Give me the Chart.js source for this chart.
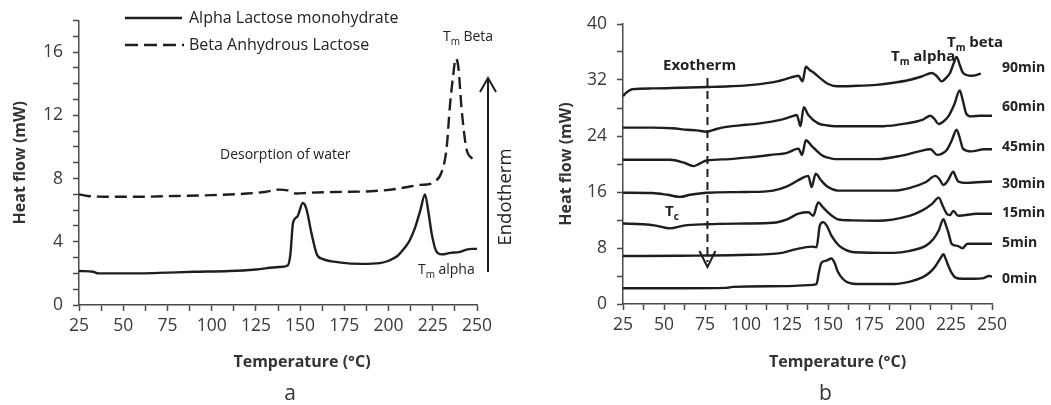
<!DOCTYPE html>
<html>
<head>
<meta charset="utf-8">
<script src="https://cdn.jsdelivr.net/npm/chart.js@4.4.1/dist/chart.umd.min.js"></script>
<style>
    html, body { margin: 0; padding: 0; background: #fff; }
    #wrap { position: relative; width: 1051px; height: 405px; }
    .box { position: absolute; top: 0; height: 405px; }
    #boxA { left: 0; width: 525px; }
    #boxB { left: 525px; width: 526px; }
</style>
</head>
<body>
<div id="wrap">
    <div class="box" id="boxA"><canvas id="chartA"></canvas></div>
    <div class="box" id="boxB"><canvas id="chartB"></canvas></div>
</div>
<script>
// Daten: [Temperatur °C, Wärmestrom mW]
const tempLabels = [25, 50, 75, 100, 125, 150, 175, 200, 225, 250];
const heatLabelsA = [0, 4, 8, 12, 16];
const heatLabelsB = [0, 8, 16, 24, 32, 40];

// Diagramm a
const alphaMono = [[25,2.15],[33,2.1],[36,2.0],[60,2.0],[75,2.05],[90,2.1],[110,2.15],[125,2.25],[138,2.4],[143,2.5],[144.5,3.2],[146,5.2],[148.5,5.6],[151.5,6.45],[153.5,6.1],[156.5,4.5],[159.5,3.2],[163,2.9],[172,2.7],[185,2.6],[195,2.65],[200,2.8],[205,3.1],[209,3.6],[212,4.1],[215,4.9],[218,6.0],[220.6,7.0],[222.5,5.9],[224.4,4.5],[227,3.4],[230,3.2],[235,3.3],[240,3.35],[244,3.5],[247,3.55],[250,3.55]];
const betaAnhydrous = [[25,7.0],[30,6.9],[40,6.85],[60,6.85],[80,6.9],[100,6.95],[120,7.05],[130,7.15],[138,7.3],[143,7.25],[148,7.05],[155,7.1],[170,7.15],[190,7.2],[205,7.35],[212,7.5],[218,7.6],[223,7.65],[226,7.8],[230,8.4],[232.8,9.9],[234.7,12.6],[236.5,14.5],[238,15.6],[239.5,15.0],[241.3,12.4],[244,9.9],[247,9.3],[250,9.05]];

// Diagramm b
const min0 = [[25,2.25],[60,2.25],[88,2.3],[92,2.45],[125,2.55],[138,2.7],[143,2.85],[144.5,4.6],[146,5.9],[149,6.2],[152,6.5],[154,5.9],[156,4.6],[159,3.6],[162,3.1],[170,2.85],[190,2.85],[200,3.2],[207.5,3.8],[212,4.5],[215.5,5.4],[218.5,6.5],[220.4,7.1],[222,6.3],[223.5,5.4],[225.5,4.4],[227.5,3.8],[232,3.6],[239,3.6],[245,3.7],[248,4.0],[250,3.9]];
const min5 = [[25,6.85],[60,6.9],[96,7.0],[122,7.3],[130,7.8],[140,8.2],[143,8.1],[145,11.2],[147,11.7],[149.5,11.1],[152,9.8],[155,8.8],[158,8.1],[166,7.4],[190,7.3],[200,7.6],[209.5,8.3],[214,9.2],[217.5,10.5],[220.4,12.1],[222,11.2],[223.4,10.2],[225.4,8.6],[229,8.3],[232,7.95],[235,8.6],[242,8.6],[250,8.6]];
const min15 = [[25,11.5],[37,11.4],[45,11.2],[53.7,10.8],[62,11.2],[76,11.4],[100,11.5],[116.5,11.6],[125,12.1],[132,12.9],[138,13.1],[141,12.6],[144,14.5],[147,13.8],[150,13.1],[153,12.5],[156,12.1],[165,11.95],[180,11.9],[199.6,12.6],[207,13.3],[213.5,14.3],[217.5,15.2],[220,14.0],[222.4,12.9],[224.4,12.7],[226.4,13.3],[229.4,12.6],[241,12.9],[250,12.9]];
const min30 = [[25,15.9],[43,15.85],[52,15.6],[59.8,15.3],[66,15.6],[76,15.9],[100,16.0],[116.5,16.2],[125,16.8],[132,17.7],[138,18.3],[140,16.7],[142.5,18.6],[146,17.6],[150,16.7],[156,16.2],[175,16.2],[190,16.2],[200,16.6],[209.5,17.4],[215.5,18.3],[218,17.8],[220.4,17.0],[223,17.6],[226.4,18.9],[228,18.1],[229.4,17.5],[235,17.3],[241,17.4],[250,17.5]];
const min45 = [[25,20.6],[40,20.6],[53.7,20.6],[62,20.2],[68,19.7],[72,20.1],[76,20.5],[90,20.7],[104,21.0],[115,21.3],[125,21.6],[132,22.2],[134.2,21.3],[136.5,23.4],[140,22.6],[146,21.3],[150,20.9],[154,20.7],[170,20.7],[179.8,20.7],[195,21.2],[205.5,21.8],[212.5,22.1],[216.5,21.3],[219,21.4],[222.4,22.0],[225.5,23.4],[228.4,24.9],[230.5,23.6],[232.3,22.2],[237.3,21.8],[245.2,22.1],[250,22.1]];
const min60 = [[25,25.2],[43,25.2],[55,25.1],[64,24.9],[70,24.8],[76,24.6],[82,25.0],[88,25.3],[100,25.6],[108.5,25.8],[121,26.3],[128,26.8],[131,27.0],[133.2,25.4],[135.2,28.1],[138,27.0],[144,25.8],[150,25.5],[154,25.4],[170,25.4],[183.7,25.4],[198,25.8],[207.5,26.3],[212.5,26.9],[215,26.4],[217.5,25.7],[220,26.0],[223.4,26.8],[227,28.5],[230.3,30.5],[232.5,28.8],[234.3,27.2],[237.3,26.8],[243,26.9],[250,26.9]];
const min90 = [[25,29.7],[27,30.2],[31,30.7],[43,30.8],[60,30.9],[77,31.0],[90,31.1],[104,31.3],[119,31.8],[125,32.2],[129.5,32.5],[132,32.6],[134.5,31.8],[136.5,33.9],[139,33.4],[141.5,33.0],[145,32.3],[149.5,31.5],[155.5,31.1],[165,31.15],[179.5,31.3],[190,31.6],[199.4,32.0],[207,32.5],[213.4,33.0],[216.5,32.5],[219.4,31.8],[222,32.3],[224.4,33.0],[226.5,34.3],[228.4,35.3],[230.4,34.1],[232.4,33.0],[237.4,32.6],[243.2,32.9]];

const timeNames = ['0min', '5min', '15min', '30min', '45min', '60min', '90min'];
const timeCurves = [min0, min5, min15, min30, min45, min60, min90];
const timeLabelHeat = [3.6, 8.7, 13.0, 17.1, 22.4, 28.1, 33.7];

const ink = '#1e1e1e';
const axisCol = '#4a4a4a';
const tickCol = '#3a3a3a';
Chart.defaults.font.family = "'Open Sans', sans-serif";

function pts(arr) {
    return arr.map(p => ({ x: p[0], y: p[1] }));
}

function xAxis() {
    return {
        type: 'linear', min: 25, max: 250,
        afterFit: s => { s.height = 70; },
        border: { color: axisCol, width: 1.5 },
        grid: { drawOnChartArea: false, tickLength: 6, color: axisCol, tickWidth: 1.5 },
        ticks: {
            stepSize: 12.5, autoSkip: false, maxRotation: 0, padding: 5, color: tickCol,
            font: { size: 17.5 },
            callback: v => tempLabels.includes(v) ? v : ''
        }
    };
}

function yAxis(max, step, labels, width, titlePad) {
    return {
        min: 0, max: max,
        afterFit: s => { s.width = width; },
        border: { color: axisCol, width: 1.5 },
        grid: { drawOnChartArea: false, tickLength: 6, color: axisCol, tickWidth: 1.5 },
        ticks: {
            stepSize: step, autoSkip: false, padding: 10, color: tickCol,
            font: { size: 17.5 },
            callback: v => labels.includes(v) ? v : ''
        },
        title: {
            display: true, text: 'Heat flow (mW)', color: '#333',
            font: { size: 16, weight: 'bold' },
            padding: { top: titlePad, bottom: 0 }
        }
    };
}

// T mit Index zeichnen
function subText(ctx, x, y, main, sub, rest, size, weight) {
    ctx.textAlign = 'left';
    ctx.textBaseline = 'middle';
    ctx.font = weight + ' ' + size + 'px "Open Sans"';
    ctx.fillText(main, x, y);
    let w = ctx.measureText(main).width;
    ctx.font = weight + ' ' + Math.round(size * 0.68) + 'px "Open Sans"';
    ctx.fillText(sub, x + w, y + size * 0.35);
    w += ctx.measureText(sub).width + size * 0.25;
    ctx.font = weight + ' ' + size + 'px "Open Sans"';
    ctx.fillText(rest, x + w, y);
}

function xTitle(ctx, chart, shift, letter) {
    const ca = chart.chartArea;
    const cx = (ca.left + ca.right) / 2 + shift;
    ctx.fillStyle = '#333';
    ctx.textAlign = 'center';
    ctx.textBaseline = 'middle';
    ctx.font = 'bold 16px "Open Sans"';
    ctx.fillText('Temperature (°C)', cx, 362);
    ctx.font = '21px "Open Sans"';
    ctx.fillText(letter, cx - 12, 394);
}

const annotA = {
    id: 'annotA',
    afterDraw(chart) {
        const ctx = chart.ctx;
        const ca = chart.chartArea;
        ctx.save();
        ctx.fillStyle = '#222';
        ctx.strokeStyle = ink;
        ctx.lineWidth = 2.3;

        // Legende
        ctx.beginPath();
        ctx.moveTo(125, 18); ctx.lineTo(182, 18);
        ctx.stroke();
        ctx.setLineDash([13, 6]);
        ctx.beginPath();
        ctx.moveTo(125, 45); ctx.lineTo(184, 45);
        ctx.stroke();
        ctx.setLineDash([]);
        ctx.font = '16px "Open Sans"';
        ctx.textAlign = 'left';
        ctx.textBaseline = 'middle';
        ctx.fillText('Alpha Lactose monohydrate', 189, 18);
        ctx.fillText('Beta Anhydrous Lactose', 189, 45);

        ctx.font = '14px "Open Sans"';
        ctx.fillText('Desorption of water', 220, 155);
        subText(ctx, 443, 37, 'T', 'm', 'Beta', 14, 'normal');
        subText(ctx, 418, 270, 'T', 'm', 'alpha', 14, 'normal');

        // Pfeil Endotherm
        const ax = ca.right + 11;
        ctx.lineWidth = 2;
        ctx.beginPath();
        ctx.moveTo(ax, 272); ctx.lineTo(ax, 78);
        ctx.moveTo(ax - 8, 92); ctx.lineTo(ax, 78); ctx.lineTo(ax + 8, 92);
        ctx.stroke();
        ctx.save();
        ctx.translate(ax + 18, 197);
        ctx.rotate(-Math.PI / 2);
        ctx.textAlign = 'center';
        ctx.font = '18.5px "Open Sans"';
        ctx.fillText('Endotherm', 0, 0);
        ctx.restore();

        xTitle(ctx, chart, 24, 'a');
        ctx.restore();
    }
};

const annotB = {
    id: 'annotB',
    afterDraw(chart) {
        const ctx = chart.ctx;
        const { x, y } = chart.scales;
        ctx.save();
        ctx.fillStyle = '#222';
        ctx.strokeStyle = ink;

        // Exotherm Pfeil
        const ex = x.getPixelForValue(76.5);
        ctx.lineWidth = 2;
        ctx.setLineDash([8, 5]);
        ctx.beginPath();
        ctx.moveTo(ex, 78); ctx.lineTo(ex, 262);
        ctx.stroke();
        ctx.setLineDash([]);
        ctx.beginPath();
        ctx.moveTo(ex - 8, 251); ctx.lineTo(ex, 267); ctx.lineTo(ex + 8, 251);
        ctx.stroke();

        ctx.font = 'bold 15px "Open Sans"';
        ctx.textAlign = 'left';
        ctx.textBaseline = 'middle';
        ctx.fillText('Exotherm', 138, 66);
        subText(ctx, 140, 212, 'T', 'c', '', 15, 'bold');
        subText(ctx, 366, 57, 'T', 'm', 'alpha', 15, 'bold');
        subText(ctx, 422, 43, 'T', 'm', 'beta', 15, 'bold');

        // Zeit-Beschriftung
        ctx.font = 'bold 14px "Open Sans"';
        timeNames.forEach((n, i) => {
            ctx.fillText(n, 477, y.getPixelForValue(timeLabelHeat[i]));
        });

        xTitle(ctx, chart, 30, 'b');
        ctx.restore();
    }
};

const lineStyle = {
    borderColor: ink,
    borderWidth: 2.4,
    pointRadius: 0,
    fill: false,
    cubicInterpolationMode: 'monotone'
};

new Chart(document.getElementById('chartA'), {
    type: 'line',
    data: {
        datasets: [
            Object.assign({ label: 'Alpha Lactose monohydrate', data: pts(alphaMono) }, lineStyle),
            Object.assign({ label: 'Beta Anhydrous Lactose', data: pts(betaAnhydrous), borderDash: [12, 6] }, lineStyle)
        ]
    },
    options: {
        responsive: true,
        maintainAspectRatio: false,
        animation: false,
        layout: { padding: { left: 6, right: 48, top: 18, bottom: 30 } },
        plugins: { legend: { display: false }, tooltip: { enabled: false } },
        scales: {
            x: xAxis(),
            y: yAxis(18, 1, heatLabelsA, 73, 5)
        }
    },
    plugins: [annotA]
});

new Chart(document.getElementById('chartB'), {
    type: 'line',
    data: {
        datasets: timeCurves.map((c, i) => Object.assign({ label: timeNames[i], data: pts(c) }, lineStyle))
    },
    options: {
        responsive: true,
        maintainAspectRatio: false,
        animation: false,
        layout: { padding: { left: 27, right: 59, top: 24, bottom: 31 } },
        plugins: { legend: { display: false }, tooltip: { enabled: false } },
        scales: {
            x: xAxis(),
            y: yAxis(40, 4, heatLabelsB, 71, 5)
        }
    },
    plugins: [annotB]
});
</script>
</body>
</html>
